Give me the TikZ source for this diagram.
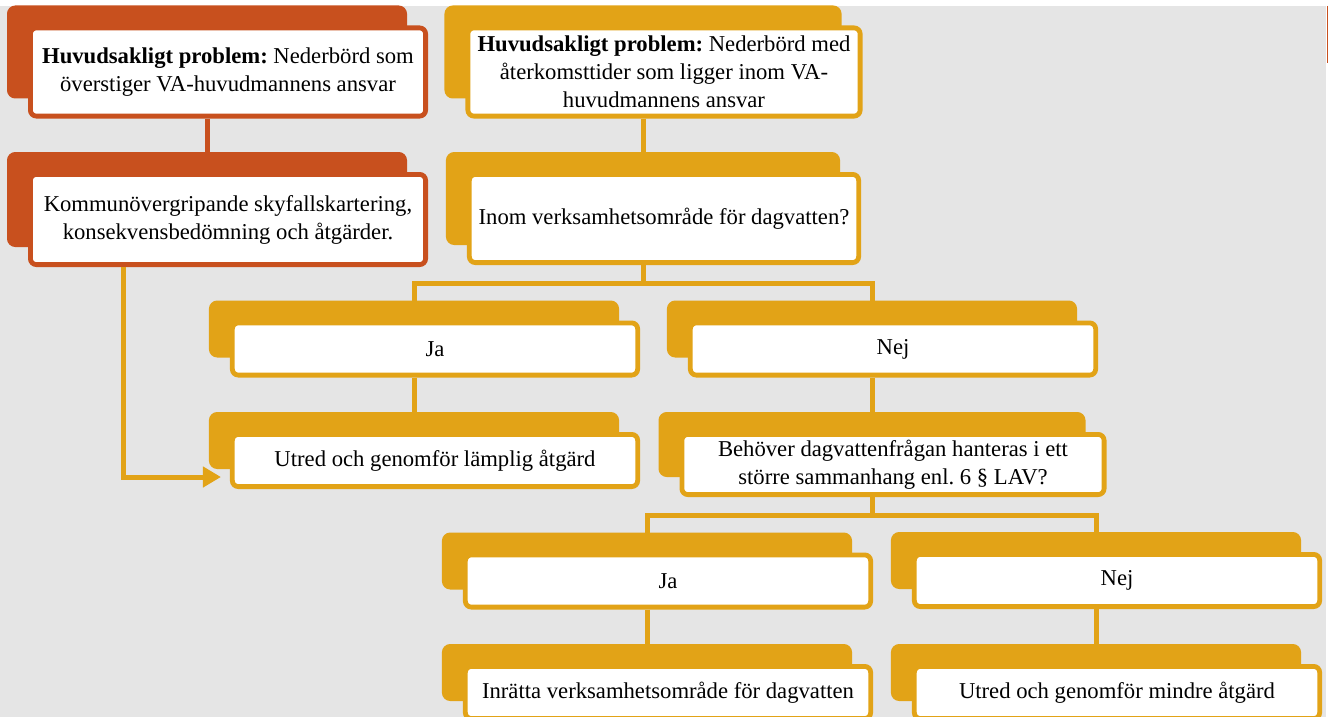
\documentclass[tikz,border=0pt]{standalone}
\usepackage{fontspec}
\setmainfont{Liberation Serif}
\usetikzlibrary{arrows.meta,shadows}
\definecolor{rust}{HTML}{C8501E}
\definecolor{amber}{HTML}{E2A317}
\definecolor{panel}{HTML}{E5E5E5}
\newcommand{\cardfont}{\fontsize{17}{21}\selectfont\frenchspacing}

\tikzset{
  card/.style={draw=#1, fill=white, line width=3.6pt, rounded corners=4.5pt,
    align=center, font=\cardfont, inner sep=2pt,
    general shadow={fill=#1, draw=#1, line width=3.6pt,
      shadow xshift=-15.75pt, shadow yshift=15pt}},
  cardtop/.style={minimum width=296.4pt, minimum height=66.15pt},
  cardrow/.style={minimum width=304pt, minimum height=39.15pt},
  link/.style={draw=#1, line width=3.75pt},
}

\begin{document}
\begin{tikzpicture}[x=0.75pt,y=-0.75pt]
\useasboundingbox (0,0) rectangle (1328,717);
\fill[panel] (0,6) rectangle (1326,717);
\draw[rust, line width=0.75pt] (1327,6) -- (1327,63);

% left column
\node[card=rust, cardtop] (r1) at (228,72)
  {\textbf{Huvudsakligt problem:} Nederbörd som\\överstiger VA-huvudmannens ansvar};
\node[card=rust, cardtop, minimum height=67.65pt] (r2) at (228,219.5)
  {Kommunövergripande skyfallskartering,\\konsekvensbedömning och åtgärder.};

% right column
\node[card=amber, cardtop, minimum width=294.2pt] (y1) at (664,72)
  {\textbf{Huvudsakligt problem:} Nederbörd med\\återkomsttider som ligger inom VA-\\huvudmannens ansvar};
\node[card=amber, cardtop, minimum width=292pt] (y2) at (664,218.5)
  {Inom verksamhetsområde för dagvatten?};

\node[card=amber, cardrow] (ja1) at (435,349) {Ja};
\node[card=amber, cardrow] (u1) at (435,460.5) {Utred och genomför lämplig åtgärd};
\node[card=amber, cardrow] (nej1) at (893,349) {Nej};
\node[card=amber, minimum width=316.65pt, minimum height=45.15pt] (beh) at (893,464.5)
  {Behöver dagvattenfrågan hanteras i ett\\större sammanhang enl. 6 § LAV?};

\node[card=amber, cardrow] (ja2) at (668,581) {Ja};
\node[card=amber, cardrow] (inr) at (668,692.5) {Inrätta verksamhetsområde för dagvatten};
\node[card=amber, cardrow] (nej2) at (1117,580.5) {Nej};
\node[card=amber, cardrow] (u2) at (1117,692.5) {Utred och genomför mindre åtgärd};

% connectors
\coordinate (split1) at (643,283);
\coordinate (split2) at (872,515);
\coordinate (arm) at (123,0);

\draw[link=rust] ([shift={(-21,0)}]r1.south) -- ([shift={(-21,-20)}]r2.north);
\draw[link=amber] ([shift={(-21,0)}]y1.south) -- ([shift={(-21,-20)}]y2.north);
\draw[link=amber] ([shift={(-21,0)}]y2.south) -- (split1);
\draw[link=amber] ([shift={(-21,-20)}]ja1.north) |- (split1) -| ([shift={(-21,-20)}]nej1.north);
\draw[link=amber] ([shift={(-21,0)}]ja1.south) -- ([shift={(-21,-20)}]u1.north);
\draw[link=amber] ([shift={(-21,0)}]nej1.south) -- ([shift={(-21,-20)}]beh.north);
\draw[link=amber] ([shift={(-21,0)}]beh.south) -- (split2);
\draw[link=amber] ([shift={(-21,-20)}]ja2.north) |- (split2) -| ([shift={(-21,-20)}]nej2.north);
\draw[link=amber] ([shift={(-21,0)}]ja2.south) -- ([shift={(-21,-20)}]inr.north);
\draw[link=amber] ([shift={(-21,0)}]nej2.south) -- ([shift={(-21,-20)}]u2.north);
\draw[link=amber, -{Triangle[length=13.5pt,width=15pt]}]
  (r2.south -| arm) |- ([shift={(-9,-12)}]u1.south west);
\end{tikzpicture}
\end{document}
